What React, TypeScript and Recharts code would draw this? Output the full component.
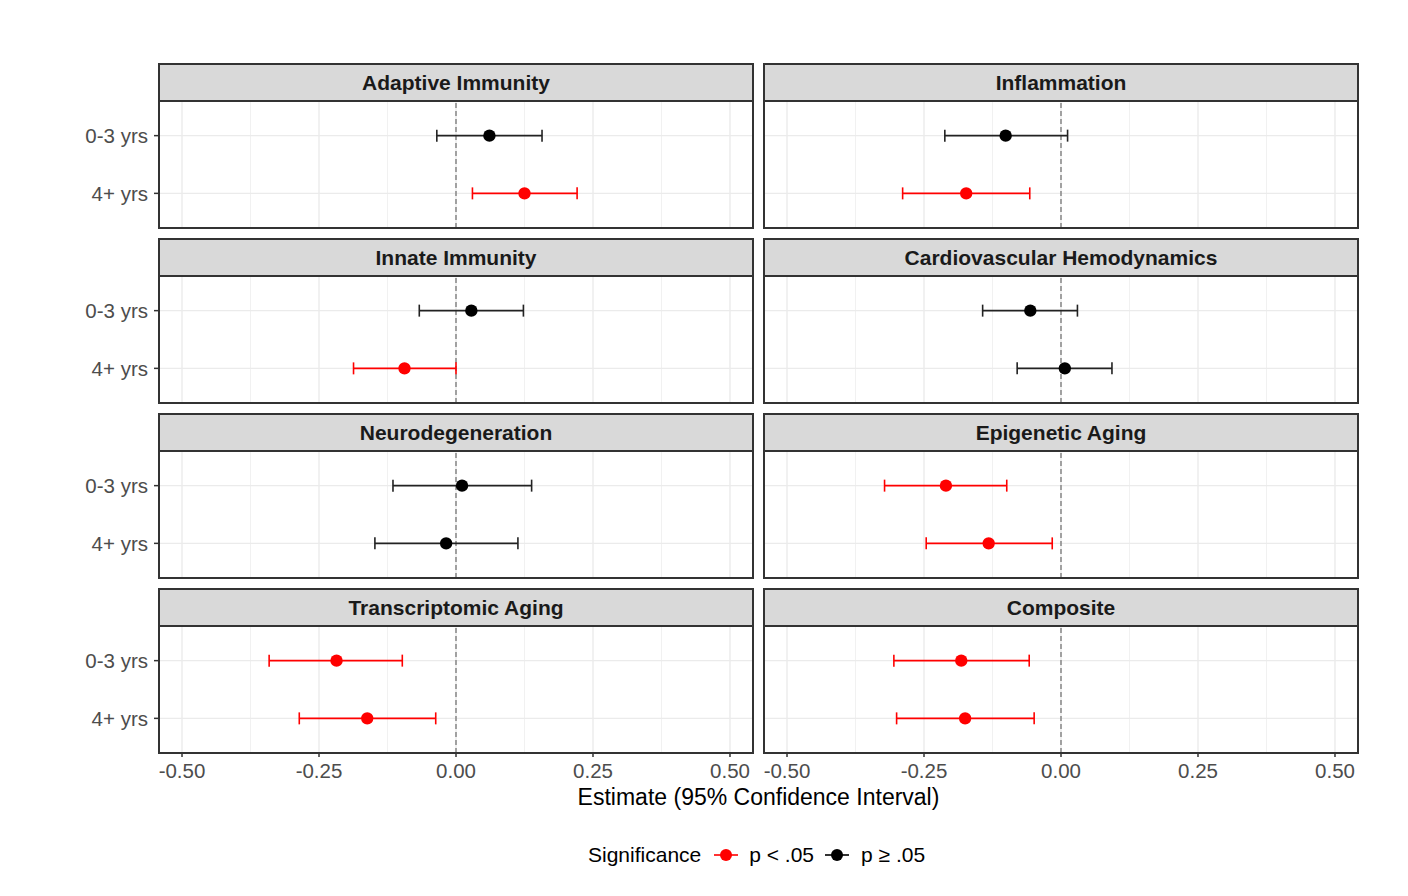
import React from 'react';
import { ScatterChart, Scatter, XAxis, YAxis, ReferenceLine, ErrorBar } from 'recharts';

const panels = [
  'Adaptive Immunity',
  'Inflammation',
  'Innate Immunity',
  'Cardiovascular Hemodynamics',
  'Neurodegeneration',
  'Epigenetic Aging',
  'Transcriptomic Aging',
  'Composite',
];
const groups = ['0-3 yrs', '4+ yrs'];

// [0-3 yrs, 4+ yrs] per panel
const estimates = [
  [0.061, 0.125],
  [-0.101, -0.173],
  [0.028, -0.094],
  [-0.056, 0.007],
  [0.011, -0.018],
  [-0.21, -0.132],
  [-0.218, -0.162],
  [-0.182, -0.175],
];
const lowers = [
  [-0.035, 0.03],
  [-0.212, -0.289],
  [-0.067, -0.187],
  [-0.143, -0.08],
  [-0.115, -0.148],
  [-0.322, -0.246],
  [-0.341, -0.286],
  [-0.305, -0.3],
];
const uppers = [
  [0.157, 0.221],
  [0.012, -0.057],
  [0.123, 0.0],
  [0.03, 0.093],
  [0.138, 0.113],
  [-0.099, -0.016],
  [-0.098, -0.037],
  [-0.058, -0.049],
];
const significant = [
  [false, true],
  [false, true],
  [false, true],
  [false, false],
  [false, false],
  [true, true],
  [true, true],
  [true, true],
];

const xTicks = [-0.5, -0.25, 0, 0.25, 0.5];
const minorTicks = [-0.375, -0.125, 0.125, 0.375];
const yTicks = [1, 2];
const legendLabels = ['p < .05', 'p \u2265 .05'];

const RED = '#FF0000';
const BLACK = '#000000';
const FONT = '"Liberation Sans", Arial, sans-serif';

const COL_X = [159, 764];
const STRIP_TOP = [64, 239, 414, 589];
const PANEL_W = 594;
const STRIP_H = 37;
const PLOT_H = 127;
const Y_AXIS_W = 80;
const X_AXIS_H = 36;
const PAD = 24;

const Dot = (color: string) => (props: any) => (
  <circle cx={props.cx} cy={props.cy} r={6.2} fill={color} />
);

const Panel = ({ index }: { index: number }) => {
  const row = Math.floor(index / 2);
  const col = index % 2;
  const showY = col === 0;
  const showX = row === 3;
  const yW = showY ? Y_AXIS_W : 0;
  const xH = showX ? X_AXIS_H : 0;
  const left = COL_X[col];
  const plotTop = STRIP_TOP[row] + STRIP_H;

  const rows = groups.map((g, j) => ({
    y: j + 1,
    x: estimates[index][j],
    err: [estimates[index][j] - lowers[index][j], uppers[index][j] - estimates[index][j]],
    sig: significant[index][j],
  }));
  const sigRows = rows.filter((r) => r.sig);
  const nsRows = rows.filter((r) => !r.sig);

  return (
    <>
      <div
        style={{
          position: 'absolute',
          left: left - 1,
          top: STRIP_TOP[row] - 1,
          width: PANEL_W + 2,
          height: STRIP_H + 2,
          boxSizing: 'border-box',
          border: '2px solid #333333',
          background: '#D9D9D9',
          display: 'flex',
          alignItems: 'center',
          justifyContent: 'center',
          fontFamily: FONT,
          fontWeight: 'bold',
          fontSize: 21,
          color: '#1A1A1A',
        }}
      >
        {panels[index]}
      </div>
      <div style={{ position: 'absolute', left: left - yW - PAD, top: plotTop }}>
        <ScatterChart
          width={PAD + yW + PANEL_W + PAD}
          height={PLOT_H + xH}
          margin={{ top: 0, right: PAD, bottom: 0, left: PAD }}
          style={{ fontFamily: FONT }}
        >
          <XAxis
            type="number"
            dataKey="x"
            domain={[-0.542, 0.542]}
            allowDataOverflow
            ticks={xTicks}
            interval={0}
            tickFormatter={(v: number) => v.toFixed(2)}
            hide={!showX}
            height={X_AXIS_H}
            axisLine={false}
            tickSize={4}
            tickMargin={6}
            tickLine={{ stroke: '#333333', strokeWidth: 1.5 }}
            tick={{ fontSize: 20.5, fill: '#4D4D4D' }}
          />
          <YAxis
            type="number"
            dataKey="y"
            domain={[0.4, 2.6]}
            reversed
            ticks={yTicks}
            interval={0}
            tickFormatter={(v: number) => groups[v - 1]}
            hide={!showY}
            width={Y_AXIS_W}
            axisLine={false}
            tickSize={5}
            tickMargin={6}
            tickLine={{ stroke: '#333333', strokeWidth: 1.5 }}
            tick={{ fontSize: 20.5, fill: '#4D4D4D' }}
          />
          {minorTicks.map((v) => (
            <ReferenceLine key={'m' + v} x={v} stroke="#F1F1F1" strokeWidth={1} />
          ))}
          {xTicks.map((v) => (
            <ReferenceLine key={'x' + v} x={v} stroke="#EBEBEB" strokeWidth={1.4} />
          ))}
          {yTicks.map((v) => (
            <ReferenceLine key={'y' + v} y={v} stroke="#EBEBEB" strokeWidth={1.4} />
          ))}
          <ReferenceLine x={0} stroke="#7F7F7F" strokeWidth={1.4} strokeDasharray="5 3" />
          <Scatter data={nsRows} isAnimationActive={false} shape={Dot(BLACK)}>
            <ErrorBar dataKey="err" direction="x" width={6} stroke="#222222" strokeWidth={1.6} />
          </Scatter>
          <Scatter data={sigRows} isAnimationActive={false} shape={Dot(RED)}>
            <ErrorBar dataKey="err" direction="x" width={6} stroke={RED} strokeWidth={1.6} />
          </Scatter>
        </ScatterChart>
      </div>
      <div
        style={{
          position: 'absolute',
          left: left - 1,
          top: plotTop - 1,
          width: PANEL_W + 2,
          height: PLOT_H + 2,
          boxSizing: 'border-box',
          border: '2px solid #333333',
          pointerEvents: 'none',
        }}
      />
    </>
  );
};

const LegendKey = ({ color }: { color: string }) => (
  <svg width={24} height={16} style={{ display: 'block' }}>
    <line x1={0} y1={8} x2={24} y2={8} stroke={color} strokeWidth={1.6} />
    <circle cx={12} cy={8} r={6} fill={color} />
  </svg>
);

export default function App() {
  return (
    <div
      style={{
        position: 'absolute',
        left: 0,
        top: 0,
        width: 1408,
        height: 896,
        background: '#FFFFFF',
        fontFamily: FONT,
        overflow: 'hidden',
      }}
    >
      {panels.map((p, i) => (
        <Panel key={p} index={i} />
      ))}
      <div
        style={{
          position: 'absolute',
          left: COL_X[0],
          width: COL_X[1] + PANEL_W - COL_X[0],
          top: 783,
          textAlign: 'center',
          fontSize: 23,
          color: '#000000',
          lineHeight: '28px',
        }}
      >
        Estimate (95% Confidence Interval)
      </div>
      <div
        style={{
          position: 'absolute',
          left: 588,
          top: 841,
          height: 28,
          display: 'flex',
          alignItems: 'center',
          fontSize: 21,
          color: '#000000',
          whiteSpace: 'nowrap',
        }}
      >
        <span style={{ marginRight: 13 }}>Significance</span>
        <LegendKey color={RED} />
        <span style={{ marginLeft: 11, marginRight: 11 }}>{legendLabels[0]}</span>
        <LegendKey color={BLACK} />
        <span style={{ marginLeft: 12 }}>{legendLabels[1]}</span>
      </div>
    </div>
  );
}
